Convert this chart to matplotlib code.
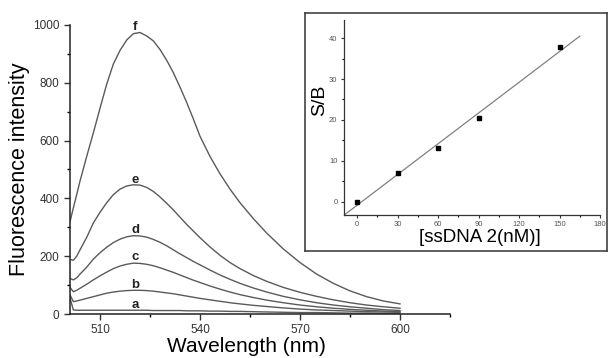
import numpy as np
import matplotlib.pyplot as plt
from matplotlib.ticker import MultipleLocator

plt.rcParams['font.family'] = ['Liberation Sans', 'DejaVu Sans']

# Спектры флуоресценции (кривые a-f)
wl = [501, 502, 503, 504, 506, 508, 510, 512, 514, 516, 518, 520, 522, 524,
      526, 528, 530, 532, 534, 536, 538, 540, 543, 546, 549, 552, 556, 560,
      565, 570, 575, 580, 585, 590, 595, 600]
f = [320, 367, 413, 460, 545, 627, 712, 795, 865, 912, 948, 970, 974, 962,
     945, 915, 878, 835, 785, 732, 675, 615, 545, 485, 432, 385, 330, 280,
     225, 178, 138, 106, 80, 60, 45, 35]
e = [189, 186, 200, 222, 265, 315, 352, 385, 413, 432, 443, 447, 446, 438,
     424, 405, 383, 360, 335, 310, 287, 264, 232, 203, 178, 157, 133, 113,
     92, 75, 61, 49, 39, 31, 25, 20]
d = [123, 118, 125, 138, 162, 190, 212, 231, 247, 259, 267, 271, 270, 266,
     258, 248, 236, 222, 208, 195, 182, 170, 152, 135, 120, 106, 90, 76,
     61, 49, 39, 31, 25, 20, 15, 12]
c = [92, 77, 82, 89, 103, 118, 132, 145, 157, 166, 172, 176, 175, 172,
     167, 160, 152, 144, 135, 126, 117, 109, 97, 86, 76, 67, 57, 48,
     39, 31, 25, 20, 16, 13, 10, 8]
b = [66, 43, 45, 48, 54, 60, 66, 72, 76, 79, 81, 82, 82, 81,
     79, 76, 73, 70, 66, 62, 58, 54, 49, 44, 39, 35, 30, 26,
     21, 17, 14, 12, 10, 8, 7, 6]
a = [55, 14, 13, 13, 13, 13, 13, 13, 13, 13, 13, 13, 13, 13,
     12, 12, 12, 12, 12, 11, 11, 11, 10, 10, 9, 9, 8, 7,
     6, 5, 5, 4, 3, 3, 2, 2]
curves = [a, b, c, d, e, f]
names = ['a', 'b', 'c', 'd', 'e', 'f']
label_y = [31, 100, 197, 291, 464, 993]

# Калибровочная зависимость S/B от концентрации
conc = [0, 30, 60, 90, 150]
sb = [0, 7.0, 13.2, 20.6, 37.7]

fig = plt.figure(figsize=(6.11, 3.58), dpi=100)

# Основной график
ax = fig.add_axes([0.1146, 0.1229, 0.6219, 0.8073])
for ys, nm, ly in zip(curves, names, label_y):
    ax.plot(wl, ys, color='#5a5a5a', lw=1.0)
    ax.text(520.5, ly, nm, ha='center', va='center', fontsize=9.5,
            fontweight='bold', color='#222222')
ax.set_xlim(501, 615)
ax.set_ylim(0, 1000)
ax.xaxis.set_major_locator(MultipleLocator(30))
ax.xaxis.set_minor_locator(MultipleLocator(15))
ax.yaxis.set_major_locator(MultipleLocator(200))
ax.yaxis.set_minor_locator(MultipleLocator(100))
for s in ['top', 'right']:
    ax.spines[s].set_visible(False)
for s in ['left', 'bottom']:
    ax.spines[s].set_linewidth(1.1)
    ax.spines[s].set_color('#222222')
ax.tick_params(which='major', direction='out', length=4, width=1,
               labelsize=8.5, labelcolor='#333333', colors='#333333')
ax.tick_params(which='minor', direction='out', length=2.5, width=1)
ax.set_xlabel('Wavelength (nm)', fontsize=15)
ax.set_ylabel('Fluorescence intensity', fontsize=15.5)
ax.xaxis.set_label_coords(0.463, -0.078)
ax.yaxis.set_label_coords(-0.105, 0.5)

# Рамка вставки
frame = fig.add_axes([0.4992, 0.2989, 0.4943, 0.6648])
frame.set_xticks([])
frame.set_yticks([])
for s in frame.spines.values():
    s.set_linewidth(1.1)
    s.set_color('#333333')

# Вставка: линейная зависимость
ins = fig.add_axes([0.5625, 0.3994, 0.4195, 0.5447])
ins.patch.set_alpha(0)
k, b0 = np.polyfit(conc, sb, 1)
xfit = np.array([-10, 165])
ins.plot(xfit, k * xfit + b0, color='#808080', lw=0.9)
ins.plot(conc, sb, 's', color='black', ms=2.6)
ins.set_xlim(-10, 180)
ins.set_ylim(-3.2, 44.4)
ins.xaxis.set_major_locator(MultipleLocator(30))
ins.xaxis.set_minor_locator(MultipleLocator(15))
ins.yaxis.set_major_locator(MultipleLocator(10))
ins.yaxis.set_minor_locator(MultipleLocator(5))
for s in ['top', 'right']:
    ins.spines[s].set_visible(False)
for s in ['left', 'bottom']:
    ins.spines[s].set_linewidth(0.9)
    ins.spines[s].set_color('#333333')
ins.tick_params(which='major', direction='out', length=2.5, width=0.8,
                labelsize=5.5, labelcolor='#555555', colors='#333333', pad=2)
ins.tick_params(which='minor', direction='out', length=1.5, width=0.8)
ins.set_xlabel('[ssDNA 2(nM)]', fontsize=13.5)
ins.set_ylabel('S/B', fontsize=14)
ins.xaxis.set_label_coords(0.53, -0.072)
ins.yaxis.set_label_coords(-0.061, 0.59)

plt.savefig('out.png', dpi=100)
